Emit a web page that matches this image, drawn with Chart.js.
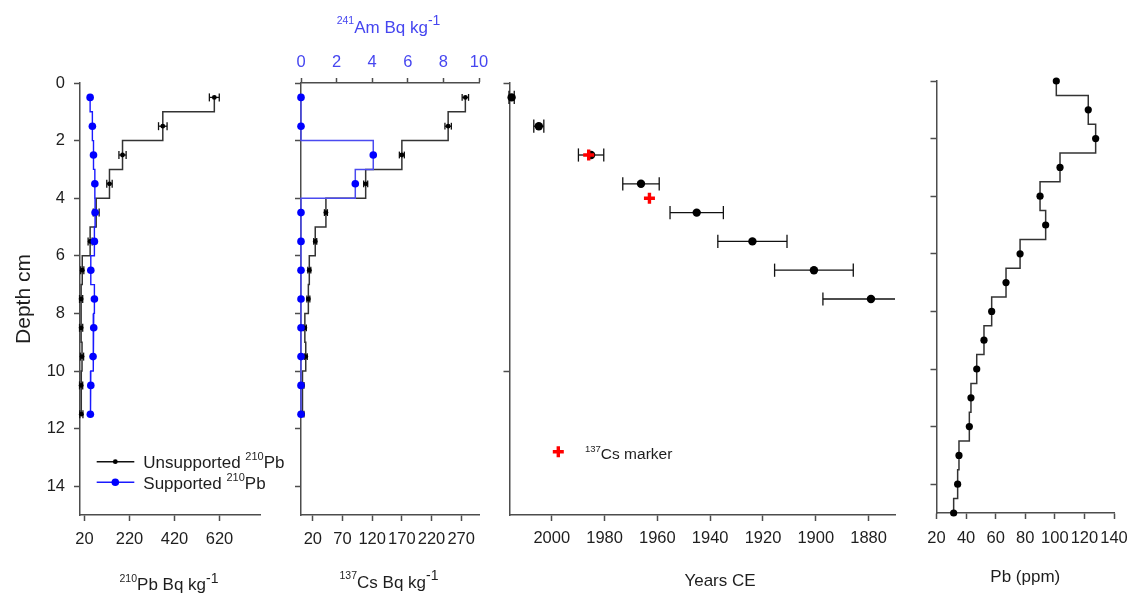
<!DOCTYPE html>
<html>
<head>
<meta charset="utf-8">
<script src="https://cdn.jsdelivr.net/npm/chart.js@4.4.1/dist/chart.umd.min.js"></script>
<style>
  html, body { margin: 0; padding: 0; background: #fff; }
  #wrap { position: relative; width: 1141px; height: 597px; overflow: hidden; background: #fff; }
  #wrap canvas { position: absolute; left: 0; top: 0; }
</style>
</head>
<body>
<div id="wrap">
  <canvas id="p1" width="1141" height="597"></canvas>
  <canvas id="p2" width="1141" height="597"></canvas>
  <canvas id="p3" width="1141" height="597"></canvas>
  <canvas id="p4" width="1141" height="597"></canvas>
</div>
<script>
// ---------------- DATA ----------------
const sampleDepth      = [0.5, 1.5, 2.5, 3.5, 4.5, 5.5, 6.5, 7.5, 8.5, 9.5, 10.5, 11.5];
const unsupportedPb    = [597, 368, 189, 131, 72, 45, 10, 5, 5, 9, 5, 6];
const unsupportedPbErr = [22, 19, 16, 12, 13, 9, 7, 7, 7, 7, 7, 7];
const supportedPb      = [45, 55, 60, 66, 67, 64, 48, 64, 61, 58, 48, 46];
const cs137            = [277, 248, 170, 109, 42, 24, 14, 12.4, 6.5, 8, 2.5, 2.5];
const cs137Err         = [5.4, 5.4, 4.2, 3.4, 2.5, 2.5, 2.5, 2.5, 2.5, 2.5, 2.5, 2.5];
const am241            = [0, 0, 4.06, 3.05, 0, 0, 0, 0, 0, 0, 0, 0];

const datedDepth = [0.5, 1.5, 2.5, 3.5, 4.5, 5.5, 6.5, 7.5];
const dateYear   = [2015.2, 2004.9, 1985.1, 1966.2, 1945.1, 1924.0, 1900.7, 1879.1];
const dateErr    = [1, 1.9, 4.8, 6.9, 10.1, 13.1, 14.9, 18.2];
const csMarkerDepth = [2.5, 4];
const csMarkerYear  = [1986, 1963];

const pbDepth = [0, 1, 2, 3, 4, 5, 6, 7, 8, 9, 10, 11, 12, 13, 14, 15];
const pbPpm   = [101, 122.6, 127.6, 103.5, 90, 93.8, 76.5, 67, 57.3, 52.1, 47.2, 43.3, 42.2, 35.2, 34.3, 31.6];

const depthTicks    = [0, 2, 4, 6, 8, 10, 12, 14];
const depthTicksP3  = [0, 10];
const pb210Ticks    = [20, 220, 420, 620];
const cs137Ticks    = [20, 70, 120, 170, 220, 270];
const am241Ticks    = [0, 2, 4, 6, 8, 10];
const yearTicks     = [2000, 1980, 1960, 1940, 1920, 1900, 1880];
const pbPpmTicks    = [20, 40, 60, 80, 100, 120, 140];

// ---------------- STYLE ----------------
const FAMILY = "'Liberation Sans', Arial, Helvetica, sans-serif";
const TXT = '#1e1e1e';
const AX = '#4d4d4d';
const LINE = '#333333';
const BLUE = '#0000ff';
const AMBLUE = '#4a4af0';
const RED = '#ff0000';

Chart.defaults.font.family = FAMILY;
Chart.defaults.color = TXT;

// ---------------- HELPERS ----------------
const toPts = (ys, xs) => ys.map((y, i) => ({ x: xs[i], y: y }));
function stepProfile(ys, xs) {
  const out = [{ x: xs[0], y: ys[0] }];
  for (let i = 1; i < ys.length; i++) {
    const b = (ys[i - 1] + ys[i]) / 2;
    out.push({ x: xs[i - 1], y: b }, { x: xs[i], y: b });
  }
  out.push({ x: xs[xs.length - 1], y: ys[ys.length - 1] });
  return out;
}
function fixedTicks(vals) { return axis => { axis.ticks = vals.map(v => ({ value: v })); }; }

function makeAxis(o) {
  const horiz = o.position === 'top' || o.position === 'bottom';
  return {
    type: 'linear',
    position: o.position,
    reverse: !!o.reverse,
    min: o.min, max: o.max,
    afterBuildTicks: fixedTicks(o.ticks),
    afterFit: s => { if (horiz) s.height = o.size; else s.width = o.size; },
    border: { display: true, color: AX, width: 1.5 },
    grid: { display: true, drawOnChartArea: false, drawTicks: true, tickLength: o.tickLength || 6,
            tickColor: AX, tickWidth: 1.5, color: AX },
    ticks: { display: o.labels !== false, color: o.color || TXT, font: { size: 16.5 },
             padding: (o.pad !== undefined ? o.pad : 9), autoSkip: false, maxRotation: 0, minRotation: 0,
             callback: v => String(v) },
    title: o.title || { display: false }
  };
}

const lineDS = (data, color, width, xAxisID) => ({
  data, showLine: true, borderColor: color, borderWidth: width, pointRadius: 0, pointHoverRadius: 0,
  fill: false, tension: 0, stepped: false, xAxisID: xAxisID || 'x', yAxisID: 'y', clip: false
});
const dotDS = (data, color, r, xAxisID) => ({
  data, showLine: false, pointRadius: r, pointHoverRadius: r, pointStyle: 'circle',
  pointBackgroundColor: color, pointBorderColor: color, pointBorderWidth: 0,
  xAxisID: xAxisID || 'x', yAxisID: 'y', clip: false
});
const errDS = (ys, xs, es, color, capR, clip) => ys.map((y, i) => ({
  data: [{ x: xs[i] - es[i], y: y }, { x: xs[i] + es[i], y: y }],
  showLine: true, borderColor: color, borderWidth: 1.3,
  pointStyle: 'line', pointRotation: 90, pointRadius: capR, pointHoverRadius: capR,
  pointBorderColor: color, pointBorderWidth: 1.3, pointBackgroundColor: color,
  xAxisID: 'x', yAxisID: 'y', clip: (clip === undefined ? false : clip)
}));

// rich text: parts = [[text, size, rise], ...]
function drawRich(ctx, cx, baseline, parts, color, align) {
  ctx.save();
  ctx.fillStyle = color;
  ctx.textBaseline = 'alphabetic';
  ctx.textAlign = 'left';
  let total = 0;
  parts.forEach(p => { ctx.font = p[1] + 'px ' + FAMILY; total += ctx.measureText(p[0]).width; });
  let x = align === 'center' ? cx - total / 2 : cx;
  parts.forEach(p => {
    ctx.font = p[1] + 'px ' + FAMILY;
    ctx.fillText(p[0], x, baseline - (p[2] || 0));
    x += ctx.measureText(p[0]).width;
  });
  ctx.restore();
}
const overlay = (id, fn) => ({ id, afterDraw(chart) { fn(chart.ctx, chart); } });

function baseOptions(padding, scales) {
  return {
    responsive: false, maintainAspectRatio: false, devicePixelRatio: 1,
    animation: false, events: [],
    layout: { padding },
    plugins: { legend: { display: false }, tooltip: { enabled: false }, title: { display: false } },
    scales
  };
}

// ---------------- PANEL 1 : 210Pb ----------------
new Chart(document.getElementById('p1'), {
  type: 'scatter',
  data: {
    datasets: [
      dotDS(toPts(sampleDepth, supportedPb), BLUE, 3.8),
      lineDS(stepProfile(sampleDepth, supportedPb), '#1a1aff', 1.4),
      dotDS(toPts(sampleDepth, unsupportedPb), '#000', 2.4),
      ...errDS(sampleDepth, unsupportedPb, unsupportedPbErr, '#111', 4),
      lineDS(stepProfile(sampleDepth, unsupportedPb), LINE, 1.5)
    ]
  },
  options: baseOptions({ left: 0, top: 83, right: 1141 - 260, bottom: 0 }, {
    x: makeAxis({ position: 'bottom', min: 0, max: 800, ticks: pb210Ticks, size: 82, pad: 9 }),
    y: makeAxis({ position: 'left', reverse: true, min: 0, max: 15, ticks: depthTicks, size: 80, pad: 9,
      title: { display: true, text: 'Depth cm', color: TXT, font: { size: 21 }, padding: { top: 11.5, bottom: 0 } } })
  }),
  plugins: [overlay('p1text', (ctx) => {
    // axis title
    drawRich(ctx, 169, 590, [['210', 10.5, 8.5], ['Pb Bq kg', 17, 0], ['-1', 14, 7.5]], TXT, 'center');
    // legend
    ctx.save();
    ctx.lineWidth = 1.4;
    ctx.strokeStyle = '#111';
    ctx.beginPath(); ctx.moveTo(96.7, 461.7); ctx.lineTo(134.3, 461.7); ctx.stroke();
    ctx.fillStyle = '#000';
    ctx.beginPath(); ctx.arc(115.3, 461.7, 2.4, 0, Math.PI * 2); ctx.fill();
    ctx.strokeStyle = '#1a1aff';
    ctx.beginPath(); ctx.moveTo(96.7, 482.3); ctx.lineTo(134.3, 482.3); ctx.stroke();
    ctx.fillStyle = BLUE;
    ctx.beginPath(); ctx.arc(115.3, 482.3, 3.8, 0, Math.PI * 2); ctx.fill();
    ctx.restore();
    drawRich(ctx, 143.3, 468.3, [['Unsupported ', 17, 0], ['210', 11, 8.3], ['Pb', 17, 0]], TXT, 'left');
    drawRich(ctx, 143.3, 488.9, [['Supported ', 17, 0], ['210', 11, 8.3], ['Pb', 17, 0]], TXT, 'left');
  })]
});

// ---------------- PANEL 2 : 137Cs / 241Am ----------------
new Chart(document.getElementById('p2'), {
  type: 'scatter',
  data: {
    datasets: [
      dotDS(toPts(sampleDepth, am241), BLUE, 3.8, 'x2'),
      lineDS(stepProfile(sampleDepth, am241), AMBLUE, 1.5, 'x2'),
      dotDS(toPts(sampleDepth, cs137), '#000', 2.4),
      ...errDS(sampleDepth, cs137, cs137Err, '#111', 3.4),
      lineDS(stepProfile(sampleDepth, cs137), LINE, 1.5)
    ]
  },
  options: baseOptions({ left: 301 - 10, top: 0, right: 1141 - 479, bottom: 0 }, {
    x: makeAxis({ position: 'bottom', min: 0, max: 300, ticks: cs137Ticks, size: 82, pad: 9 }),
    x2: makeAxis({ position: 'top', min: 0, max: 10, ticks: am241Ticks, size: 83, tickLength: 5, pad: 5.5, color: '#4646f0' }),
    y: makeAxis({ position: 'left', reverse: true, min: 0, max: 15, ticks: depthTicks, size: 10, labels: false })
  }),
  plugins: [overlay('p2text', (ctx) => {
    drawRich(ctx, 389, 588.3, [['137', 10.5, 9.5], ['Cs Bq kg', 17, 0], ['-1', 14, 8]], TXT, 'center');
    drawRich(ctx, 388.5, 33.3, [['241', 10.5, 9.5], ['Am Bq kg', 17, 0], ['-1', 14, 8]], '#4646f0', 'center');
  })]
});

// ---------------- PANEL 3 : Years CE ----------------
new Chart(document.getElementById('p3'), {
  type: 'scatter',
  data: {
    datasets: [
      {
        data: toPts(csMarkerDepth, csMarkerYear), showLine: false, pointStyle: 'cross',
        pointRadius: 5.5, pointHoverRadius: 5.5, pointBorderColor: RED, pointBorderWidth: 3.4,
        pointBackgroundColor: RED, xAxisID: 'x', yAxisID: 'y', clip: false
      },
      dotDS(toPts(datedDepth, dateYear), '#000', 4.2),
      ...errDS(datedDepth, dateYear, dateErr, '#111', 6.6, { left: false, top: false, bottom: false, right: 0 })
    ]
  },
  options: baseOptions({ left: 509.5 - 10, top: 83, right: 1141 - 895, bottom: 0 }, {
    x: makeAxis({ position: 'bottom', reverse: true, min: 1870, max: 2016, ticks: yearTicks, size: 82, pad: 7.6 }),
    y: makeAxis({ position: 'left', reverse: true, min: 0, max: 15, ticks: depthTicksP3, size: 10, labels: false })
  }),
  plugins: [overlay('p3text', (ctx) => {
    drawRich(ctx, 720, 585.7, [['Years CE', 17, 0]], TXT, 'center');
    // 137Cs marker key
    ctx.save();
    ctx.strokeStyle = RED; ctx.lineWidth = 3.4;
    ctx.beginPath();
    ctx.moveTo(552.8, 451.7); ctx.lineTo(563.8, 451.7);
    ctx.moveTo(558.3, 446.2); ctx.lineTo(558.3, 457.2);
    ctx.stroke();
    ctx.restore();
    drawRich(ctx, 585, 459, [['137', 9.5, 7], ['Cs marker', 15.5, 0]], TXT, 'left');
  })]
});

// ---------------- PANEL 4 : Pb (ppm) ----------------
new Chart(document.getElementById('p4'), {
  type: 'scatter',
  data: {
    datasets: [
      dotDS(toPts(pbDepth, pbPpm), '#000', 3.6),
      lineDS(stepProfile(pbDepth, pbPpm), LINE, 1.5)
    ]
  },
  options: baseOptions({ left: 936.5 - 10, top: 81, right: 1141 - 1114, bottom: 0 }, {
    x: makeAxis({ position: 'bottom', min: 20, max: 140, ticks: pbPpmTicks, size: 84, pad: 9.3,
      title: { display: true, text: 'Pb (ppm)', color: TXT, font: { size: 17 }, padding: { top: 0, bottom: 9.9 } } }),
    y: makeAxis({ position: 'left', reverse: true, min: 0, max: 15, ticks: depthTicks, size: 10, labels: false })
  })
});
</script>
</body>
</html>
